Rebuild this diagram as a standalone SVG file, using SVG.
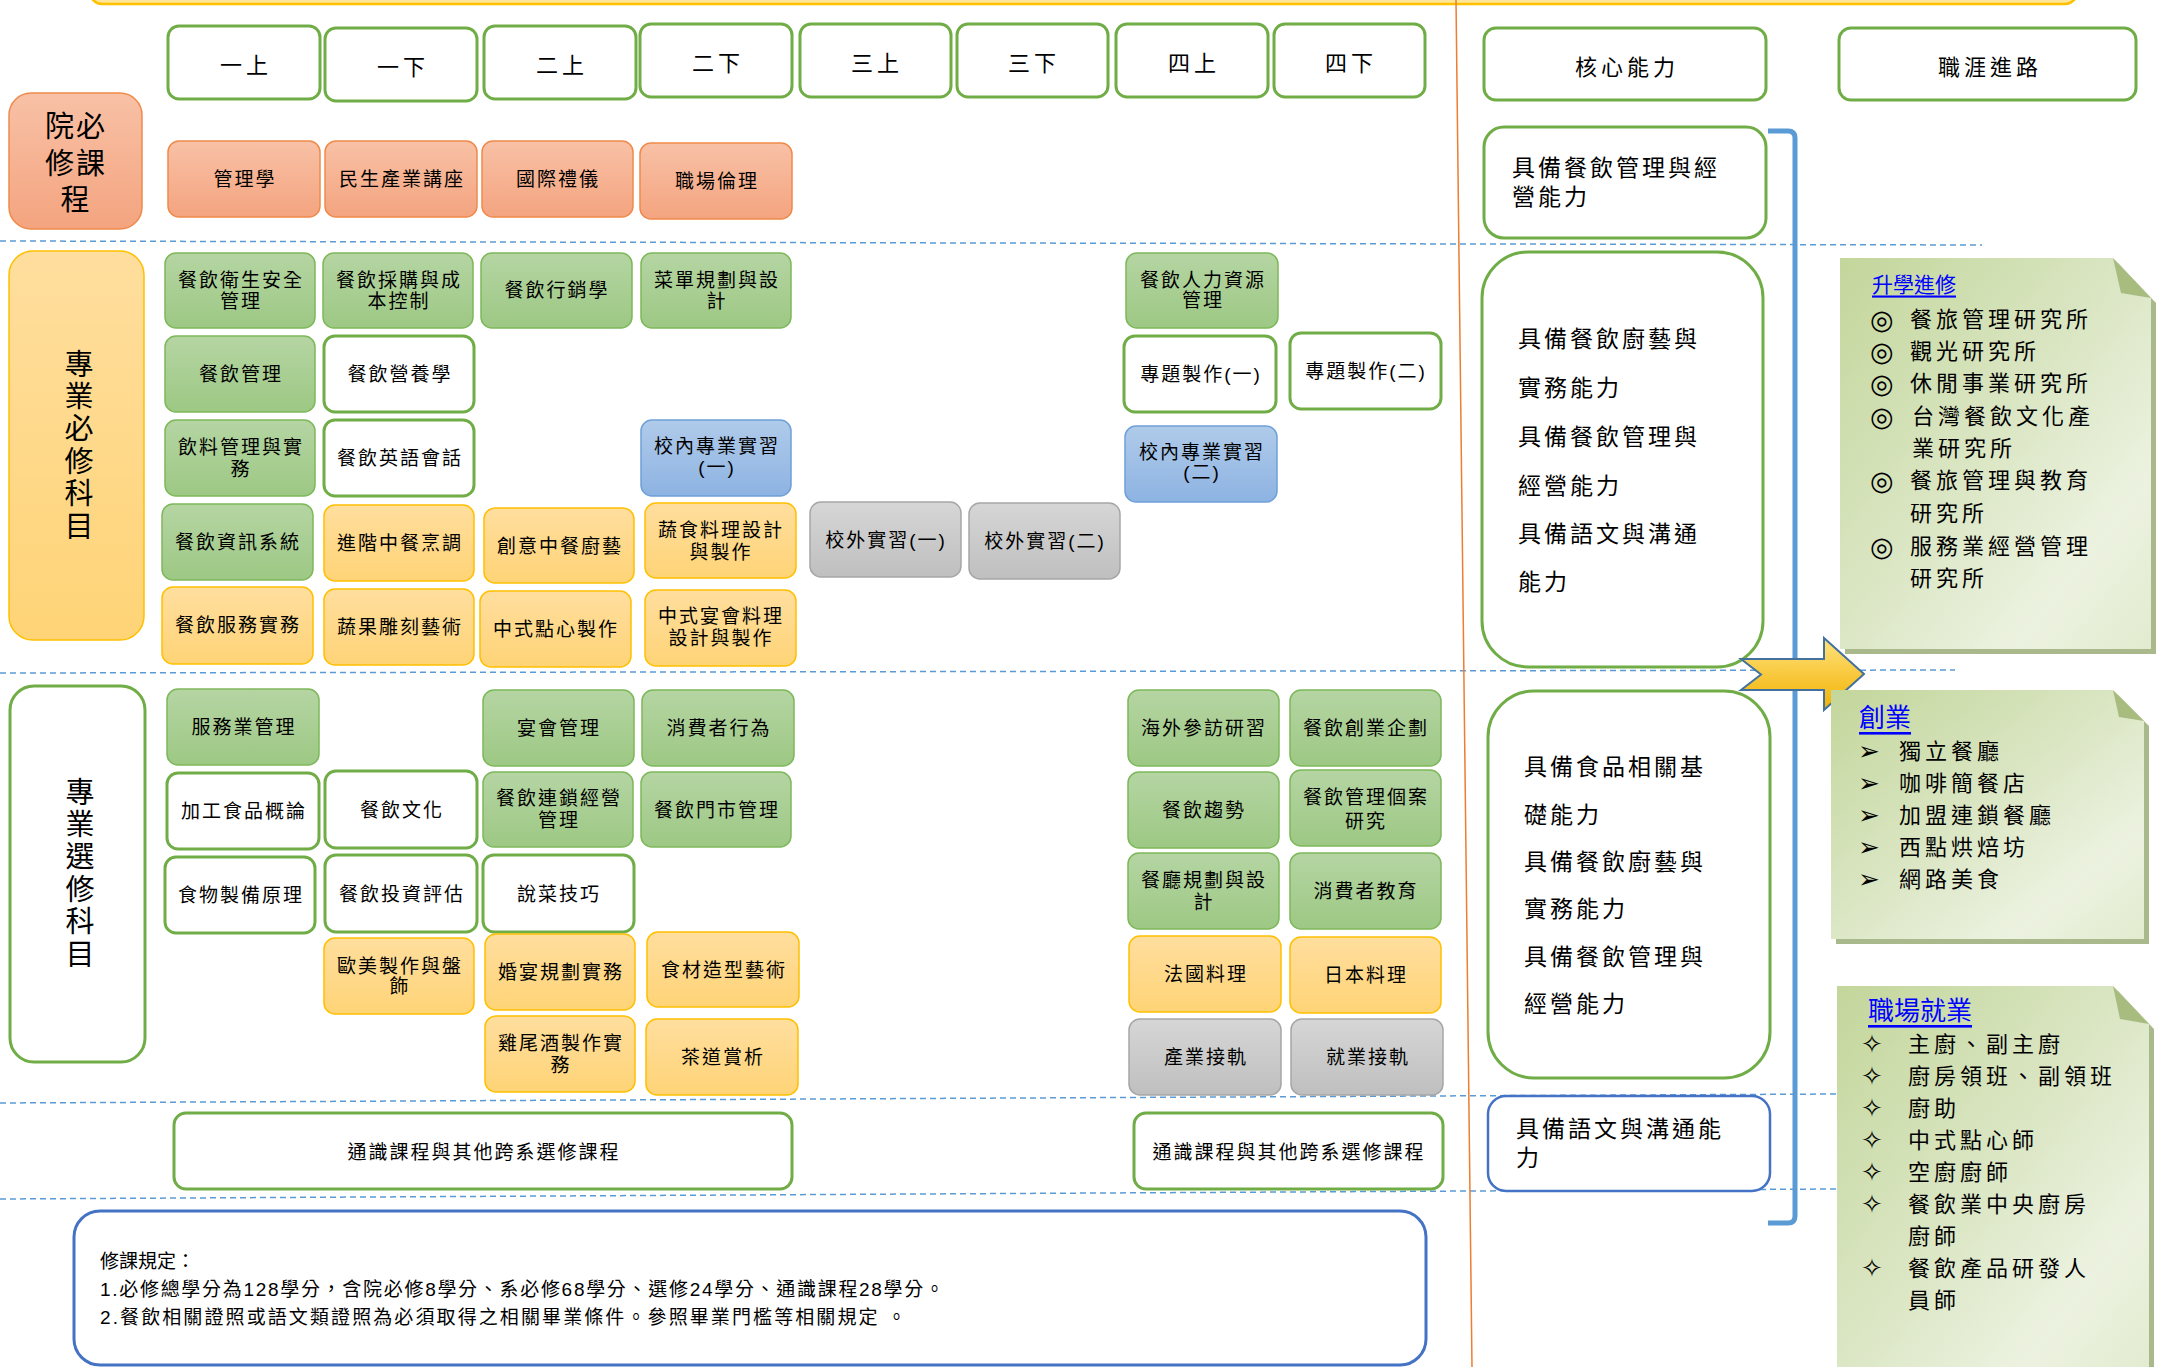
<svg xmlns="http://www.w3.org/2000/svg" width="2157" height="1367" viewBox="0 0 2157 1367">
<defs>
<linearGradient id="gGreen" x1="0" y1="0" x2="0" y2="1"><stop offset="0" stop-color="#B5D5A3"/><stop offset="1" stop-color="#9DC884"/></linearGradient>
<linearGradient id="gOrange" x1="0" y1="0" x2="0" y2="1"><stop offset="0" stop-color="#F8C1A6"/><stop offset="1" stop-color="#F4A47F"/></linearGradient>
<linearGradient id="gYellow" x1="0" y1="0" x2="0" y2="1"><stop offset="0" stop-color="#FFDE9E"/><stop offset="1" stop-color="#FFD477"/></linearGradient>
<linearGradient id="gBlue" x1="0" y1="0" x2="0" y2="1"><stop offset="0" stop-color="#B0CBEA"/><stop offset="1" stop-color="#8DB3E2"/></linearGradient>
<linearGradient id="gGray" x1="0" y1="0" x2="0" y2="1"><stop offset="0" stop-color="#D6D6D6"/><stop offset="1" stop-color="#BFBFBF"/></linearGradient>
<linearGradient id="gArrow" x1="0" y1="0" x2="0" y2="1"><stop offset="0" stop-color="#FFE27E"/><stop offset="1" stop-color="#F2B100"/></linearGradient>
<linearGradient id="gNote" x1="0" y1="0" x2="1" y2="1"><stop offset="0" stop-color="#C3D69B"/><stop offset="0.5" stop-color="#DCE7C6"/><stop offset="0.78" stop-color="#ECF2E0"/><stop offset="1" stop-color="#E2EBCF"/></linearGradient>
<style>
.bg{fill:url(#gGreen);stroke:#7DB85A;stroke-width:1.5}
.bw{fill:#fff;stroke:#70AD47;stroke-width:3}
.bo{fill:url(#gOrange);stroke:#F08A4B;stroke-width:1.5}
.by{fill:url(#gYellow);stroke:#FFC000;stroke-width:1.5}
.bb{fill:url(#gBlue);stroke:#6FA0D8;stroke-width:1.5}
.bgr{fill:url(#gGray);stroke:#A6A6A6;stroke-width:1.5}
.dash{stroke:#5B9BD5;stroke-width:1.5;stroke-dasharray:6 4;fill:none}
text{font-family:"Liberation Sans","Noto Sans CJK TC","Noto Sans CJK SC","DejaVu Sans",sans-serif;fill:#000}
.l{font-size:19px;letter-spacing:2px;text-anchor:middle;dominant-baseline:central}
.h{font-size:22px;letter-spacing:4px;text-anchor:middle;dominant-baseline:central}
.big{font-size:29px;text-anchor:middle;dominant-baseline:central}
.vert{font-size:29px;writing-mode:tb;letter-spacing:3.4px}
.core{font-size:23px;letter-spacing:3px;dominant-baseline:central}
.it{font-size:22px;letter-spacing:4px;dominant-baseline:central}
.sym{font-family:"DejaVu Sans",sans-serif;font-size:27px;dominant-baseline:central}
.sym2{font-family:"DejaVu Sans",sans-serif;font-size:26px;dominant-baseline:central}
.ttl{fill:#0000FF;text-decoration:underline;dominant-baseline:central}
.rule{font-size:19px;dominant-baseline:central}
.note{fill:url(#gNote)}
.shadow{fill:#A9B98B}
.fold{fill:#A9BC80}
</style>
</defs>
<rect width="2157" height="1367" fill="#fff"/>

<!-- top banner edge -->
<rect x="90" y="-60" width="1987" height="64" rx="12" fill="#FFE699" stroke="#FFC000" stroke-width="2.5"/>

<!-- separators -->
<g id="separators">
<line class="dash" x1="0" y1="241" x2="1982" y2="245"/>
<line class="dash" x1="0" y1="673" x2="1955" y2="670"/>
<line class="dash" x1="0" y1="1103" x2="1837" y2="1094"/>
<line class="dash" x1="0" y1="1199" x2="1837" y2="1189"/>
<line x1="1456" y1="0" x2="1472" y2="1367" stroke="#ED7D31" stroke-width="1.5"/>
</g>

<!-- semester headers -->
<g id="sem-1a"><rect class="bw" x="168" y="26" width="152" height="73" rx="11"/><text class="h" x="246" y="65">一上</text></g>
<g id="sem-1b"><rect class="bw" x="325" y="28" width="152" height="73" rx="11"/><text class="h" x="403" y="67">一下</text></g>
<g id="sem-2a"><rect class="bw" x="484" y="26" width="152" height="73" rx="11"/><text class="h" x="562" y="65">二上</text></g>
<g id="sem-2b"><rect class="bw" x="640" y="24" width="152" height="73" rx="11"/><text class="h" x="718" y="63">二下</text></g>
<g id="sem-3a"><rect class="bw" x="800" y="24" width="151" height="73" rx="11"/><text class="h" x="877" y="63">三上</text></g>
<g id="sem-3b"><rect class="bw" x="957" y="24" width="151" height="73" rx="11"/><text class="h" x="1034" y="63">三下</text></g>
<g id="sem-4a"><rect class="bw" x="1116" y="24" width="152" height="73" rx="11"/><text class="h" x="1194" y="63">四上</text></g>
<g id="sem-4b"><rect class="bw" x="1274" y="24" width="151" height="73" rx="11"/><text class="h" x="1351" y="63">四下</text></g>

<!-- category labels -->
<g id="cat-college"><rect class="bo" x="9" y="93" width="133" height="136" rx="22"/>
<text class="big" style="letter-spacing:2px"><tspan x="76" y="127">院必</tspan><tspan x="76" y="164">修課</tspan><tspan x="75" y="200" style="letter-spacing:0">程</tspan></text></g>
<g id="cat-required"><rect class="by" x="9" y="251" width="135" height="389" rx="24"/>
<text class="vert" x="76" y="349">專業必修科目</text></g>
<g id="cat-elective"><rect class="bw" x="10" y="686" width="135" height="376" rx="24"/>
<text class="vert" x="77" y="777">專業選修科目</text></g>

<!-- college required -->
<g id="c-mgmt"><rect class="bo" x="168" y="141" width="152" height="76" rx="11"/><text class="l" x="245" y="179">管理學</text></g>
<g id="c-lecture"><rect class="bo" x="325" y="141" width="152" height="76" rx="11"/><text class="l" x="402" y="179">民生產業講座</text></g>
<g id="c-etiquette"><rect class="bo" x="482" y="141" width="151" height="76" rx="11"/><text class="l" x="558" y="179">國際禮儀</text></g>
<g id="c-ethics"><rect class="bo" x="640" y="143" width="152" height="76" rx="11"/><text class="l" x="717" y="181">職場倫理</text></g>

<!-- professional required -->
<g id="r-safety"><rect class="bg" x="165" y="253" width="150" height="75" rx="11"/><text class="l"><tspan x="241" y="280">餐飲衛生安全</tspan><tspan x="241" y="301">管理</tspan></text></g>
<g id="r-purchase"><rect class="bg" x="323" y="253" width="150" height="75" rx="11"/><text class="l"><tspan x="399" y="280">餐飲採購與成</tspan><tspan x="399" y="301">本控制</tspan></text></g>
<g id="r-marketing"><rect class="bg" x="481" y="253" width="151" height="75" rx="11"/><text class="l" x="557" y="290">餐飲行銷學</text></g>
<g id="r-menu"><rect class="bg" x="641" y="253" width="150" height="75" rx="11"/><text class="l"><tspan x="717" y="280">菜單規劃與設</tspan><tspan x="717" y="301">計</tspan></text></g>
<g id="r-hr"><rect class="bg" x="1126" y="253" width="152" height="75" rx="11"/><text class="l"><tspan x="1203" y="280">餐飲人力資源</tspan><tspan x="1203" y="300">管理</tspan></text></g>

<g id="r-fbmgmt"><rect class="bg" x="165" y="336" width="150" height="76" rx="11"/><text class="l" x="241" y="374">餐飲管理</text></g>
<g id="r-nutrition"><rect class="bw" x="324" y="336" width="150" height="76" rx="11"/><text class="l" x="400" y="374">餐飲營養學</text></g>
<g id="r-project1"><rect class="bw" x="1124" y="336" width="152" height="76" rx="11"/><text class="l" x="1201" y="374">專題製作(一)</text></g>
<g id="r-project2"><rect class="bw" x="1290" y="333" width="151" height="76" rx="11"/><text class="l" x="1366" y="371">專題製作(二)</text></g>

<g id="r-beverage"><rect class="bg" x="165" y="420" width="150" height="76" rx="11"/><text class="l"><tspan x="241" y="447">飲料管理與實</tspan><tspan x="241" y="469">務</tspan></text></g>
<g id="r-english"><rect class="bw" x="324" y="420" width="150" height="76" rx="11"/><text class="l" x="400" y="458">餐飲英語會話</text></g>
<g id="r-intern-in1"><rect class="bb" x="641" y="420" width="150" height="76" rx="11"/><text class="l"><tspan x="717" y="446">校內專業實習</tspan><tspan x="717" y="467">(一)</tspan></text></g>
<g id="r-intern-in2"><rect class="bb" x="1125" y="426" width="152" height="76" rx="11"/><text class="l"><tspan x="1202" y="452">校內專業實習</tspan><tspan x="1202" y="472">(二)</tspan></text></g>

<g id="r-info"><rect class="bg" x="162" y="504" width="151" height="76" rx="11"/><text class="l" x="238" y="542">餐飲資訊系統</text></g>
<g id="r-adv-chinese"><rect class="by" x="324" y="505" width="150" height="76" rx="11"/><text class="l" x="400" y="543">進階中餐烹調</text></g>
<g id="r-creative"><rect class="by" x="484" y="508" width="150" height="75" rx="11"/><text class="l" x="560" y="546">創意中餐廚藝</text></g>
<g id="r-veg"><rect class="by" x="645" y="503" width="151" height="75" rx="11"/><text class="l"><tspan x="721" y="530">蔬食料理設計</tspan><tspan x="721" y="552">與製作</tspan></text></g>
<g id="r-intern-out1"><rect class="bgr" x="810" y="502" width="151" height="75" rx="11"/><text class="l" x="886" y="540">校外實習(一)</text></g>
<g id="r-intern-out2"><rect class="bgr" x="969" y="503" width="151" height="76" rx="11"/><text class="l" x="1045" y="541">校外實習(二)</text></g>

<g id="r-service"><rect class="by" x="162" y="587" width="151" height="77" rx="11"/><text class="l" x="238" y="625">餐飲服務實務</text></g>
<g id="r-carving"><rect class="by" x="324" y="589" width="150" height="76" rx="11"/><text class="l" x="400" y="627">蔬果雕刻藝術</text></g>
<g id="r-dimsum"><rect class="by" x="480" y="591" width="151" height="76" rx="11"/><text class="l" x="556" y="629">中式點心製作</text></g>
<g id="r-banquet"><rect class="by" x="645" y="590" width="151" height="76" rx="11"/><text class="l"><tspan x="721" y="616">中式宴會料理</tspan><tspan x="721" y="638">設計與製作</tspan></text></g>

<!-- professional electives -->
<g id="e-service-mgmt"><rect class="bg" x="167" y="689" width="152" height="76" rx="11"/><text class="l" x="244" y="727">服務業管理</text></g>
<g id="e-banquet-mgmt"><rect class="bg" x="483" y="690" width="151" height="76" rx="11"/><text class="l" x="559" y="728">宴會管理</text></g>
<g id="e-consumer"><rect class="bg" x="642" y="690" width="152" height="76" rx="11"/><text class="l" x="719" y="728">消費者行為</text></g>
<g id="e-overseas"><rect class="bg" x="1128" y="690" width="151" height="76" rx="11"/><text class="l" x="1204" y="728">海外參訪研習</text></g>
<g id="e-startup"><rect class="bg" x="1290" y="690" width="151" height="76" rx="11"/><text class="l" x="1366" y="728">餐飲創業企劃</text></g>

<g id="e-processed"><rect class="bw" x="167" y="773" width="152" height="76" rx="11"/><text class="l" x="244" y="811">加工食品概論</text></g>
<g id="e-culture"><rect class="bw" x="325" y="771" width="152" height="77" rx="11"/><text class="l" x="402" y="810">餐飲文化</text></g>
<g id="e-chain"><rect class="bg" x="483" y="772" width="150" height="75" rx="11"/><text class="l"><tspan x="559" y="798">餐飲連鎖經營</tspan><tspan x="559" y="820">管理</tspan></text></g>
<g id="e-store"><rect class="bg" x="641" y="772" width="150" height="75" rx="11"/><text class="l" x="717" y="810">餐飲門市管理</text></g>
<g id="e-trend"><rect class="bg" x="1128" y="772" width="151" height="76" rx="11"/><text class="l" x="1204" y="810">餐飲趨勢</text></g>
<g id="e-case"><rect class="bg" x="1290" y="770" width="151" height="76" rx="11"/><text class="l"><tspan x="1366" y="797">餐飲管理個案</tspan><tspan x="1366" y="821">研究</tspan></text></g>

<g id="e-prep"><rect class="bw" x="165" y="857" width="150" height="76" rx="11"/><text class="l" x="241" y="895">食物製備原理</text></g>
<g id="e-invest"><rect class="bw" x="325" y="855" width="152" height="77" rx="11"/><text class="l" x="402" y="894">餐飲投資評估</text></g>
<g id="e-present"><rect class="bw" x="483" y="855" width="151" height="77" rx="11"/><text class="l" x="559" y="894">說菜技巧</text></g>
<g id="e-layout"><rect class="bg" x="1128" y="853" width="151" height="76" rx="11"/><text class="l"><tspan x="1204" y="880">餐廳規劃與設</tspan><tspan x="1204" y="902">計</tspan></text></g>
<g id="e-education"><rect class="bg" x="1290" y="853" width="151" height="76" rx="11"/><text class="l" x="1366" y="891">消費者教育</text></g>

<g id="e-western"><rect class="by" x="324" y="938" width="150" height="76" rx="11"/><text class="l"><tspan x="400" y="966">歐美製作與盤</tspan><tspan x="400" y="986">飾</tspan></text></g>
<g id="e-wedding"><rect class="by" x="485" y="934" width="150" height="76" rx="11"/><text class="l" x="561" y="972">婚宴規劃實務</text></g>
<g id="e-styling"><rect class="by" x="647" y="932" width="152" height="75" rx="11"/><text class="l" x="724" y="970">食材造型藝術</text></g>
<g id="e-french"><rect class="by" x="1129" y="936" width="152" height="76" rx="11"/><text class="l" x="1206" y="974">法國料理</text></g>
<g id="e-japanese"><rect class="by" x="1290" y="937" width="151" height="76" rx="11"/><text class="l" x="1366" y="975">日本料理</text></g>

<g id="e-cocktail"><rect class="by" x="485" y="1016" width="150" height="76" rx="11"/><text class="l"><tspan x="561" y="1043">雞尾酒製作實</tspan><tspan x="561" y="1065">務</tspan></text></g>
<g id="e-tea"><rect class="by" x="646" y="1019" width="152" height="76" rx="11"/><text class="l" x="723" y="1057">茶道賞析</text></g>
<g id="e-industry"><rect class="bgr" x="1129" y="1019" width="152" height="76" rx="11"/><text class="l" x="1206" y="1057">產業接軌</text></g>
<g id="e-employ"><rect class="bgr" x="1291" y="1019" width="152" height="76" rx="11"/><text class="l" x="1368" y="1057">就業接軌</text></g>

<!-- general education -->
<g id="ge-1"><rect class="bw" x="174" y="1113" width="618" height="76" rx="12"/><text class="l" x="484" y="1152">通識課程與其他跨系選修課程</text></g>
<g id="ge-2"><rect class="bw" x="1134" y="1113" width="309" height="76" rx="12"/><text class="l" x="1289" y="1152">通識課程與其他跨系選修課程</text></g>

<!-- rules -->
<g id="rules"><rect x="74" y="1211" width="1352" height="154" rx="26" fill="#fff" stroke="#4472C4" stroke-width="3"/>
<text class="rule"><tspan x="100" y="1261">修課規定：</tspan><tspan x="100" y="1289" style="letter-spacing:1.7px">1.必修總學分為128學分，含院必修8學分、系必修68學分、選修24學分、通識課程28學分。</tspan><tspan x="100" y="1317" style="letter-spacing:2.1px">2.餐飲相關證照或語文類證照為必須取得之相關畢業條件。參照畢業門檻等相關規定 。</tspan></text></g>

<!-- core competency column -->
<g id="hdr-core"><rect class="bw" x="1484" y="28" width="282" height="72" rx="12"/><text class="h" x="1627" y="67">核心能力</text></g>
<g id="hdr-career"><rect class="bw" x="1839" y="28" width="297" height="72" rx="12"/><text class="h" x="1990" y="67">職涯進路</text></g>
<g id="core-a"><rect class="bw" x="1484" y="127" width="282" height="111" rx="20"/>
<text class="core"><tspan x="1512" y="168">具備餐飲管理與經</tspan><tspan x="1512" y="197">營能力</tspan></text></g>
<g id="core-b"><rect class="bw" x="1482" y="252" width="281" height="415" rx="46"/>
<text class="core"><tspan x="1518" y="339">具備餐飲廚藝與</tspan><tspan x="1518" y="388">實務能力</tspan><tspan x="1518" y="437">具備餐飲管理與</tspan><tspan x="1518" y="486">經營能力</tspan><tspan x="1518" y="534">具備語文與溝通</tspan><tspan x="1518" y="582">能力</tspan></text></g>
<g id="core-c"><rect class="bw" x="1488" y="691" width="282" height="387" rx="46"/>
<text class="core"><tspan x="1524" y="767">具備食品相關基</tspan><tspan x="1524" y="815">礎能力</tspan><tspan x="1524" y="862">具備餐飲廚藝與</tspan><tspan x="1524" y="909">實務能力</tspan><tspan x="1524" y="957">具備餐飲管理與</tspan><tspan x="1524" y="1004">經營能力</tspan></text></g>
<g id="core-d"><rect x="1488" y="1096" width="282" height="95" rx="18" fill="#fff" stroke="#4472C4" stroke-width="2.5"/>
<text class="core"><tspan x="1516" y="1129">具備語文與溝通能</tspan><tspan x="1516" y="1158">力</tspan></text></g>

<!-- connectors -->
<g id="connectors">
<path d="M1768,131 L1788,131 Q1795,131 1795,138 L1795,1216 Q1795,1223 1788,1223 L1768,1223" fill="none" stroke="#5B9BD5" stroke-width="5"/>
<path d="M1741,659 L1824,659 L1824,638 L1864,674 L1824,710 L1824,690 L1741,690 L1761,674.5 Z" fill="url(#gArrow)" stroke="#41719C" stroke-width="2" stroke-linejoin="miter"/>
</g>

<!-- career notes -->
<g id="note-study">
<polygon class="shadow" points="1845,263 2118,263 2156,303 2156,654 1845,654"/>
<polygon class="note" points="1840,258 2113,258 2151,298 2151,649 1840,649"/>
<polygon class="fold" points="2113,258 2151,298 2121,293"/>
<text class="ttl" x="1872" y="284" style="font-size:21px">升學進修</text>
<text class="sym"><tspan x="1870" y="319">◎</tspan><tspan x="1870" y="351">◎</tspan><tspan x="1870" y="383">◎</tspan><tspan x="1870" y="416">◎</tspan><tspan x="1870" y="480">◎</tspan><tspan x="1870" y="546">◎</tspan></text>
<text class="it"><tspan x="1910" y="319">餐旅管理研究所</tspan><tspan x="1910" y="351">觀光研究所</tspan><tspan x="1910" y="383">休閒事業研究所</tspan><tspan x="1912" y="416">台灣餐飲文化產</tspan><tspan x="1912" y="448">業研究所</tspan><tspan x="1910" y="480">餐旅管理與教育</tspan><tspan x="1910" y="513">研究所</tspan><tspan x="1910" y="546">服務業經營管理</tspan><tspan x="1910" y="578">研究所</tspan></text>
</g>
<g id="note-startup">
<polygon class="shadow" points="1836,695 2118,695 2149,726 2149,944 1836,944"/>
<polygon class="note" points="1831,690 2113,690 2144,721 2144,939 1831,939"/>
<polygon class="fold" points="2113,690 2144,721 2119,717"/>
<text class="ttl" x="1859" y="718" style="font-size:26px">創業</text>
<text class="sym2"><tspan x="1858" y="751">➢</tspan><tspan x="1858" y="783">➢</tspan><tspan x="1858" y="815">➢</tspan><tspan x="1858" y="847">➢</tspan><tspan x="1858" y="879">➢</tspan></text>
<text class="it"><tspan x="1899" y="751">獨立餐廳</tspan><tspan x="1899" y="783">咖啡簡餐店</tspan><tspan x="1899" y="815">加盟連鎖餐廳</tspan><tspan x="1899" y="847">西點烘焙坊</tspan><tspan x="1899" y="879">網路美食</tspan></text>
</g>
<g id="note-job">
<polygon class="shadow" points="1842,991 2118,991 2154,1029 2154,1380 1842,1380"/>
<polygon class="note" points="1837,986 2113,986 2149,1024 2149,1380 1837,1380"/>
<polygon class="fold" points="2113,986 2149,1024 2120,1019"/>
<text class="ttl" x="1868" y="1011" style="font-size:26px">職場就業</text>
<text class="sym2"><tspan x="1861" y="1044">✧</tspan><tspan x="1861" y="1076">✧</tspan><tspan x="1861" y="1108">✧</tspan><tspan x="1861" y="1140">✧</tspan><tspan x="1861" y="1172">✧</tspan><tspan x="1861" y="1204">✧</tspan><tspan x="1861" y="1268">✧</tspan></text>
<text class="it"><tspan x="1908" y="1044">主廚、副主廚</tspan><tspan x="1908" y="1076">廚房領班、副領班</tspan><tspan x="1908" y="1108">廚助</tspan><tspan x="1908" y="1140">中式點心師</tspan><tspan x="1908" y="1172">空廚廚師</tspan><tspan x="1908" y="1204">餐飲業中央廚房</tspan><tspan x="1908" y="1236">廚師</tspan><tspan x="1908" y="1268">餐飲產品研發人</tspan><tspan x="1908" y="1300">員師</tspan></text>
</g>
</svg>
